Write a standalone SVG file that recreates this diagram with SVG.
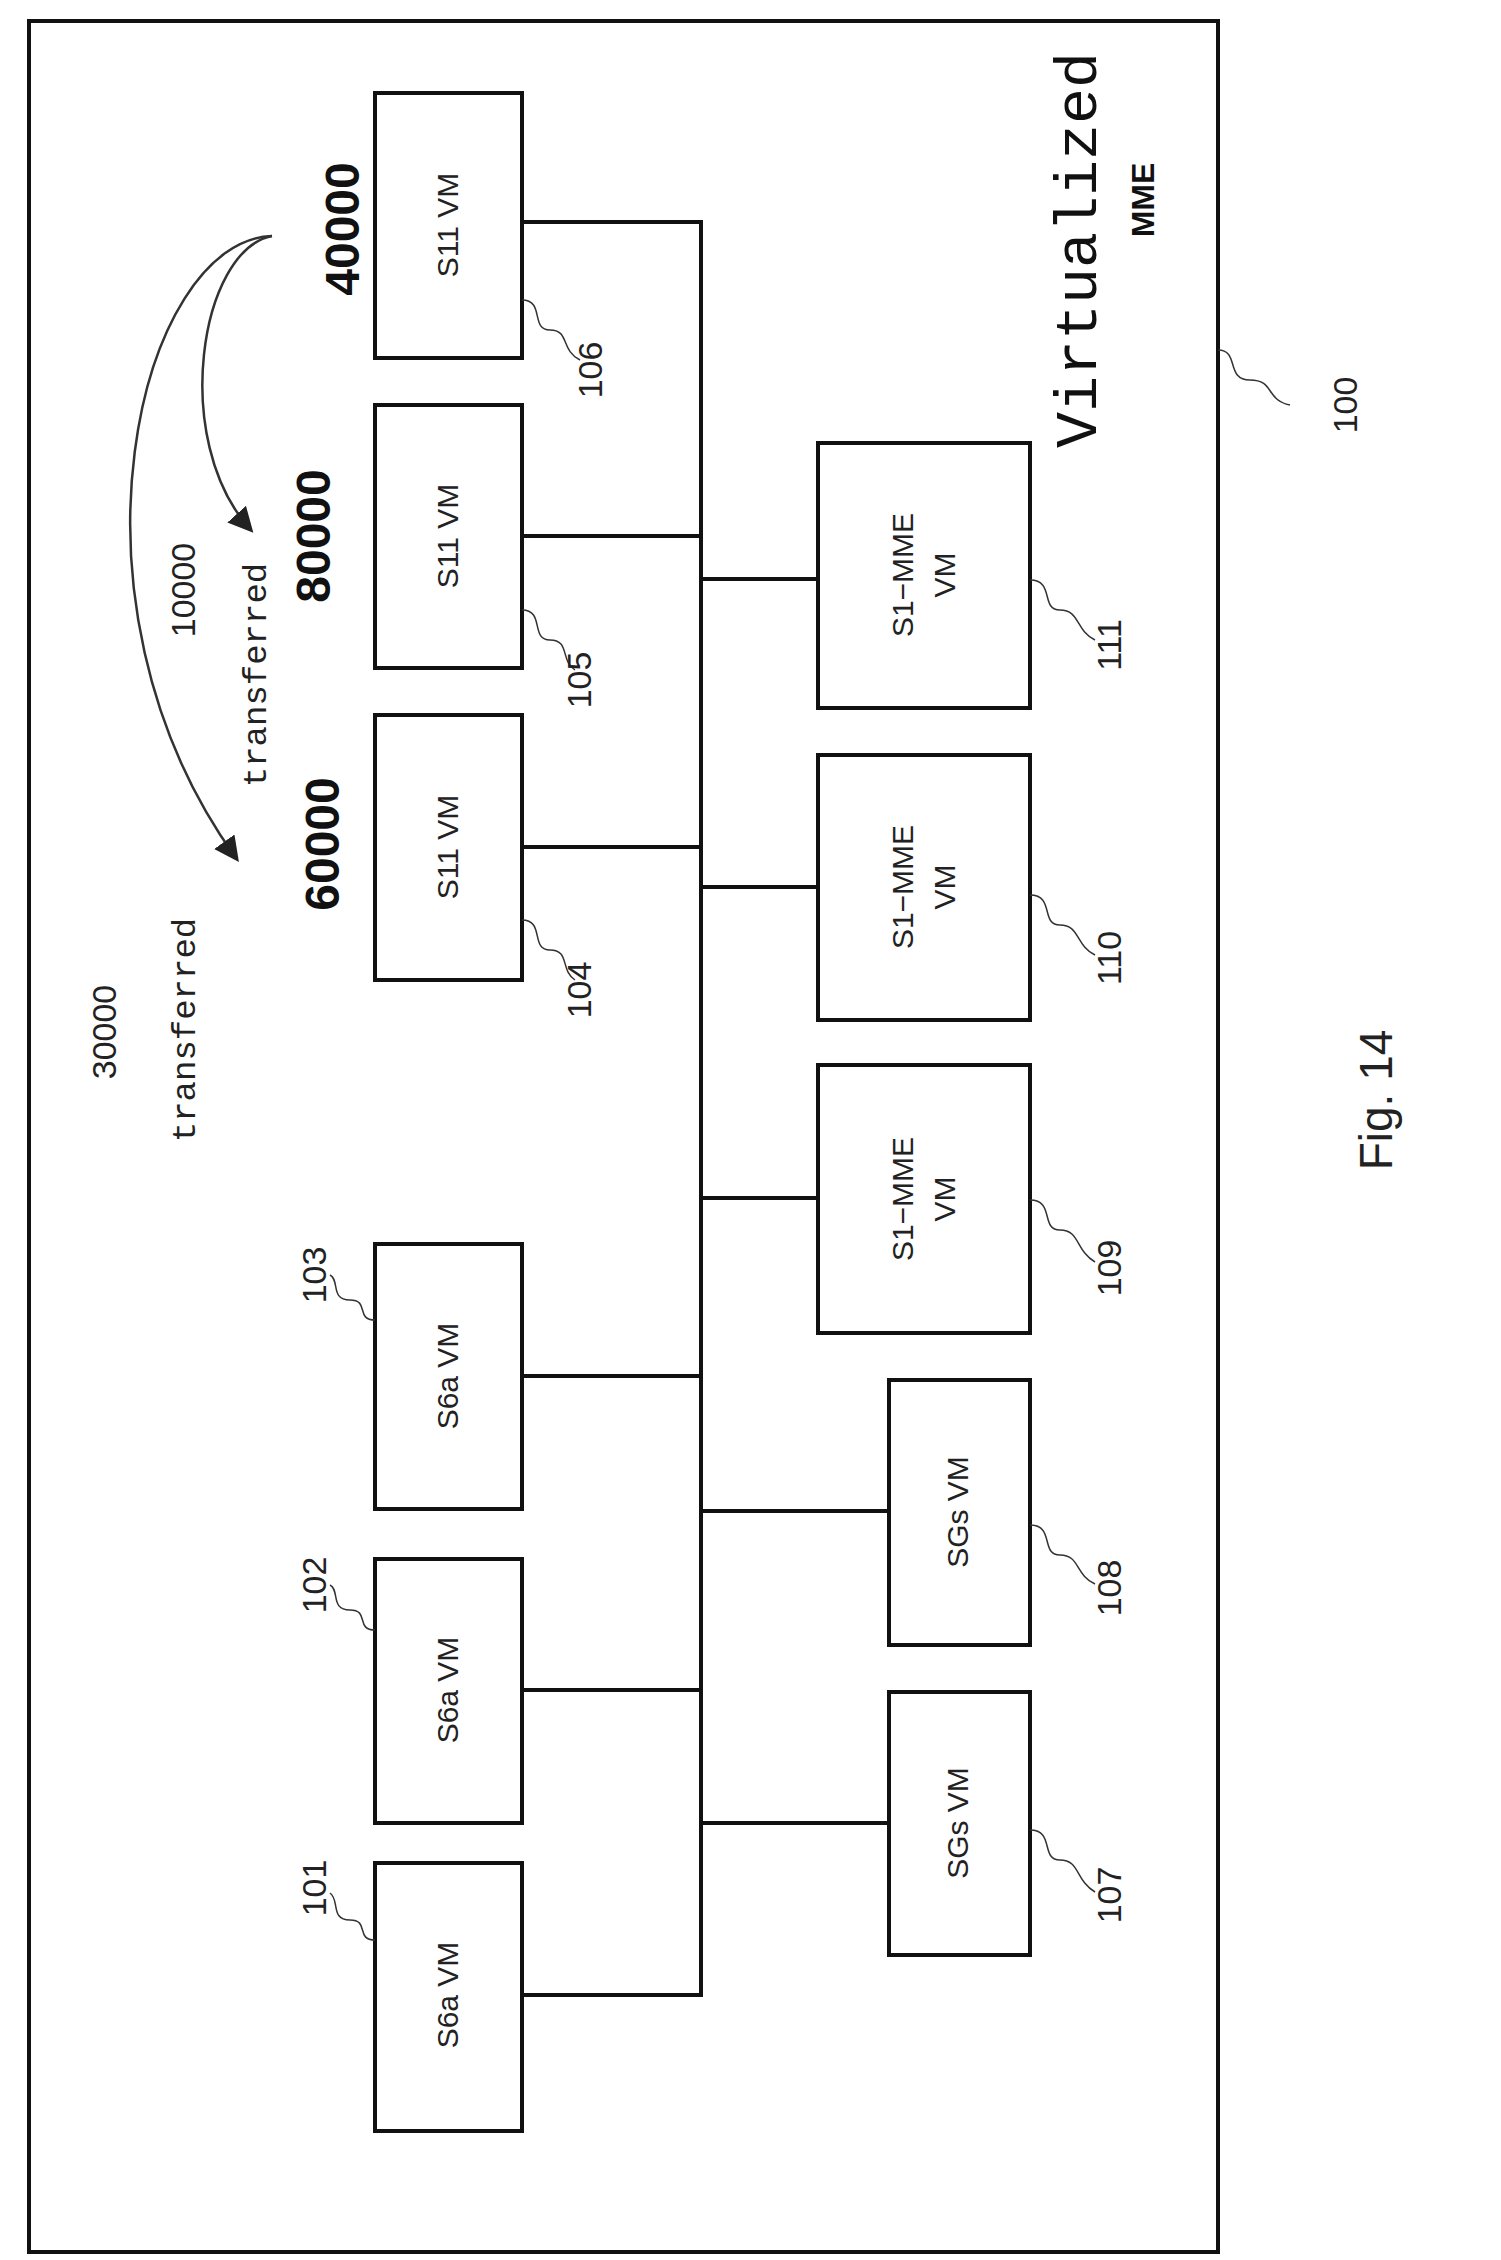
<svg xmlns="http://www.w3.org/2000/svg" width="1501" height="2260" viewBox="0 0 1501 2260">
<style>
.b{fill:#fff;stroke:#111;stroke-width:4}
.l{fill:none;stroke:#111;stroke-width:4}
.s{fill:none;stroke:#333;stroke-width:1.5}
.t{font-family:"Liberation Sans",Arial,sans-serif;font-size:30px;fill:#222;text-anchor:middle;dominant-baseline:middle}
.n{font-family:"Liberation Sans",Arial,sans-serif;font-size:34px;fill:#222;text-anchor:middle;dominant-baseline:middle}
.big{font-family:"Liberation Sans",Arial,sans-serif;font-size:48px;font-weight:bold;fill:#111;text-anchor:middle;dominant-baseline:middle}
.m{font-family:"Liberation Mono",monospace;font-size:34px;fill:#222;text-anchor:middle;dominant-baseline:middle}
</style>
<defs><marker id="a" markerWidth="10" markerHeight="10" refX="8" refY="5" orient="auto"><path d="M0,0 L10,5 L0,10 z" fill="#222"/></marker></defs>
<rect x="29" y="21" width="1189" height="2231" fill="none" stroke="#111" stroke-width="4"/>
<g id="connectors">
<path class="l" d="M522,222 H701 V1995 H522"/>
<path class="l" d="M522,536 H701 M522,847 H701 M522,1376 H701 M522,1690 H701"/>
<path class="l" d="M701,579 H818 M701,887 H818 M701,1198 H818 M701,1511 H889 M701,1823 H889"/>
<path fill="none" stroke="#333" stroke-width="2.5" marker-end="url(#a)" d="M272,236 C200,250 170,440 250,529"/>
<path fill="none" stroke="#333" stroke-width="2.5" marker-end="url(#a)" d="M272,236 C140,240 50,600 236,858"/>
</g>
<g id="n106"><rect class="b" x="375" y="93" width="147" height="265"/><text class="t" transform="translate(450,225) rotate(-90)">S11  VM</text></g>
<g id="n105"><rect class="b" x="375" y="405" width="147" height="263"/><text class="t" transform="translate(450,536) rotate(-90)">S11  VM</text></g>
<g id="n104"><rect class="b" x="375" y="715" width="147" height="265"/><text class="t" transform="translate(450,847) rotate(-90)">S11  VM</text></g>
<g id="n103"><rect class="b" x="375" y="1244" width="147" height="265"/><text class="t" transform="translate(450,1376) rotate(-90)">S6a  VM</text></g>
<g id="n102"><rect class="b" x="375" y="1559" width="147" height="264"/><text class="t" transform="translate(450,1690) rotate(-90)">S6a  VM</text></g>
<g id="n101"><rect class="b" x="375" y="1863" width="147" height="268"/><text class="t" transform="translate(450,1995) rotate(-90)">S6a  VM</text></g>
<g id="n111"><rect class="b" x="818" y="443" width="212" height="265"/><text class="t" transform="translate(925,575) rotate(-90)"><tspan x="0" dy="-20">S1−MME</tspan><tspan x="0" dy="42">VM</tspan></text></g>
<g id="n110"><rect class="b" x="818" y="755" width="212" height="265"/><text class="t" transform="translate(925,887) rotate(-90)"><tspan x="0" dy="-20">S1−MME</tspan><tspan x="0" dy="42">VM</tspan></text></g>
<g id="n109"><rect class="b" x="818" y="1065" width="212" height="268"/><text class="t" transform="translate(925,1199) rotate(-90)"><tspan x="0" dy="-20">S1−MME</tspan><tspan x="0" dy="42">VM</tspan></text></g>
<g id="n108"><rect class="b" x="889" y="1380" width="141" height="265"/><text class="t" transform="translate(960,1512) rotate(-90)">SGs  VM</text></g>
<g id="n107"><rect class="b" x="889" y="1692" width="141" height="263"/><text class="t" transform="translate(960,1823) rotate(-90)">SGs  VM</text></g>
<g id="leaders">
<path class="s" d="M522,300 C545,300 530,330 550,330 C570,330 560,350 580,360"/>
<path class="s" d="M522,610 C545,610 530,640 550,640 C570,640 560,660 575,670"/>
<path class="s" d="M522,920 C545,920 530,950 550,950 C570,950 560,970 575,980"/>
<path class="s" d="M375,1320 C355,1320 370,1300 350,1300 C330,1300 340,1280 330,1275"/>
<path class="s" d="M375,1630 C355,1630 370,1610 350,1610 C330,1610 340,1590 330,1585"/>
<path class="s" d="M375,1940 C355,1940 370,1920 350,1920 C330,1920 340,1900 330,1893"/>
<path class="s" d="M1030,580 C1055,580 1040,610 1060,610 C1080,610 1075,630 1095,640"/>
<path class="s" d="M1030,895 C1055,895 1040,925 1060,925 C1080,925 1075,945 1095,955"/>
<path class="s" d="M1030,1200 C1055,1200 1040,1230 1060,1230 C1080,1230 1075,1250 1095,1262"/>
<path class="s" d="M1030,1525 C1055,1525 1040,1555 1060,1555 C1080,1555 1075,1575 1095,1584"/>
<path class="s" d="M1030,1830 C1055,1830 1040,1860 1060,1860 C1080,1860 1075,1880 1095,1892"/>
<path class="s" d="M1218,350 C1240,350 1225,380 1250,380 C1275,380 1265,400 1290,405"/>
</g>
<g id="labels">
<text class="n" transform="translate(593,370) rotate(-90)">106</text>
<text class="n" transform="translate(582,680) rotate(-90)">105</text>
<text class="n" transform="translate(582,990) rotate(-90)">104</text>
<text class="n" transform="translate(317,1275) rotate(-90)">103</text>
<text class="n" transform="translate(317,1585) rotate(-90)">102</text>
<text class="n" transform="translate(317,1888) rotate(-90)">101</text>
<text class="n" transform="translate(1112,645) rotate(-90)">111</text>
<text class="n" transform="translate(1112,958) rotate(-90)">110</text>
<text class="n" transform="translate(1112,1268) rotate(-90)">109</text>
<text class="n" transform="translate(1112,1588) rotate(-90)">108</text>
<text class="n" transform="translate(1112,1895) rotate(-90)">107</text>
<text class="n" transform="translate(1348,405) rotate(-90)">100</text>
<text class="big" transform="translate(346,229) rotate(-90)">40000</text>
<text class="big" transform="translate(317,536) rotate(-90)">80000</text>
<text class="big" transform="translate(326,844) rotate(-90)">60000</text>
<text class="n" transform="translate(186,590) rotate(-90)">10000</text>
<text class="m" transform="translate(257,675) rotate(-90)">transferred</text>
<text class="n" transform="translate(107,1032) rotate(-90)">30000</text>
<text class="m" transform="translate(186,1030) rotate(-90)">transferred</text>
<text font-family="Liberation Mono,monospace" font-size="60" fill="#111" text-anchor="middle" dominant-baseline="middle" transform="translate(1080,250) rotate(-90)">Virtualized</text>
<text font-family="Liberation Sans,Arial,sans-serif" font-size="32" font-weight="bold" fill="#111" text-anchor="middle" dominant-baseline="middle" transform="translate(1146,200) rotate(-90)">MME</text>
<text font-family="Liberation Sans,Arial,sans-serif" font-size="46" fill="#222" text-anchor="middle" dominant-baseline="middle" transform="translate(1380,1100) rotate(-90)">Fig. 14</text>
</g>
</svg>
